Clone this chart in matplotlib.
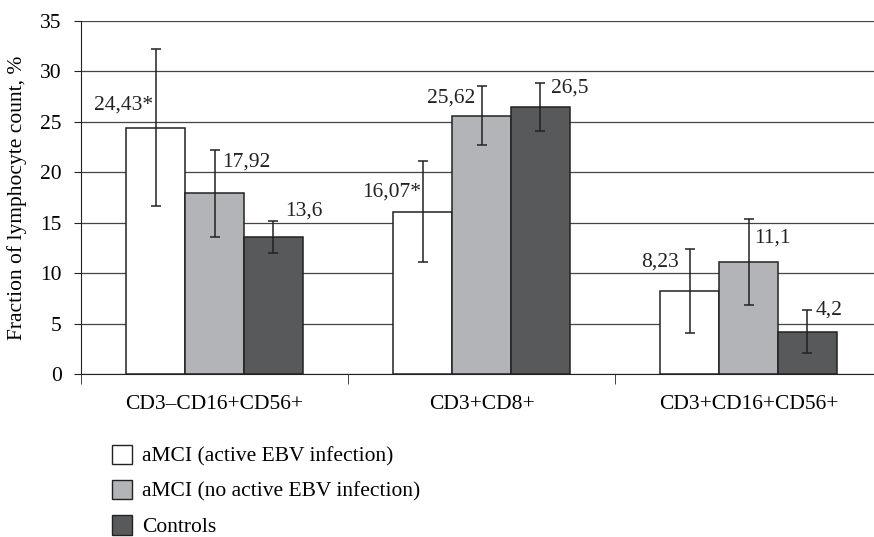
import numpy as np
import matplotlib
matplotlib.use("Agg")
from matplotlib import pyplot as plt
from matplotlib.patches import Patch

# Lymphocyte subsets and study groups
categories = ["CD3\u2013CD16+CD56+", "CD3+CD8+", "CD3+CD16+CD56+"]
groups = ["aMCI (active EBV infection)", "aMCI (no active EBV infection)", "Controls"]

# Mean fraction (%) and error half-width for each group, per subset
active_ebv = [24.43, 16.07, 8.23]
active_ebv_err = [7.8, 5.0, 4.15]
no_active_ebv = [17.92, 25.62, 11.1]
no_active_ebv_err = [4.3, 2.9, 4.3]
controls = [13.6, 26.5, 4.2]
controls_err = [1.6, 2.4, 2.1]

# Text drawn above the bars (asterisk marks significant difference)
value_labels = [["24,43*", "16,07*", "8,23"],
                ["17,92", "25,62", "11,1"],
                ["13,6", "26,5", "4,2"]]

means = [active_ebv, no_active_ebv, controls]
errors = [active_ebv_err, no_active_ebv_err, controls_err]
colors = ["#ffffff", "#b3b4b7", "#58595b"]

# label placement: horizontal shift (category units) and height above the bar
label_dx = [[-0.12, -0.115, -0.11],
            [0.12, -0.115, 0.09],
            [0.115, 0.11, 0.08]]
label_dy = [[2.2, 1.95, 2.9],
            [3.1, 1.7, 2.4],
            [2.6, 1.9, 2.15]]

plt.rcParams["font.family"] = ["Liberation Serif", "DejaVu Serif"]
plt.rcParams["font.size"] = 15.5

fig = plt.figure(figsize=(8.74, 5.37), dpi=100)
ax = fig.add_axes([81 / 874, 1 - 374 / 537, 801 / 874, 353 / 537])

x = np.arange(len(categories))
width = 0.22
for i in range(len(groups)):
    pos = x + (i - 1) * width
    ax.bar(pos, means[i], width, color=colors[i], edgecolor="#222222",
           linewidth=1.1, zorder=3, label=groups[i])
    ax.errorbar(pos, means[i], yerr=errors[i], fmt="none", ecolor="#222222",
                elinewidth=1.1, capsize=3.5, capthick=1.1, zorder=4)
    for j in range(len(categories)):
        ax.text(pos[j] + label_dx[i][j], means[i][j] + label_dy[i][j],
                value_labels[i][j], ha="center", va="center",
                color="#222222", zorder=5)

ax.set_xlim(-0.5, 2.5)
ax.set_ylim(0, 35)
ax.set_yticks(np.arange(0, 36, 5))
ax.yaxis.grid(True, color="#444444", linewidth=0.9)
ax.set_axisbelow(True)

ax.set_xticks(x)
ax.set_xticklabels(categories)
ax.set_xticks([-0.5, 0.5, 1.5, 2.5], minor=True)
ax.tick_params(axis="x", which="major", length=0, pad=15)
ax.tick_params(axis="x", which="minor", length=7, color="#222222")
ax.tick_params(axis="y", length=5, color="#222222", pad=9)

for side in ["top", "right"]:
    ax.spines[side].set_visible(False)
ax.spines["left"].set_color("#222222")
ax.spines["bottom"].set_color("#222222")

ax.set_ylabel("Fraction of lymphocyte count, %", labelpad=9)

handles = [Patch(facecolor=c, edgecolor="#222222", linewidth=1.0) for c in colors]
fig.legend(handles, groups, loc="upper left", bbox_to_anchor=(103 / 874, 1 - 436 / 537),
           frameon=False, handlelength=0.95, handleheight=1.0,
           labelspacing=0.62, handletextpad=0.45, borderaxespad=0)

fig.savefig("out.png", dpi=100)
